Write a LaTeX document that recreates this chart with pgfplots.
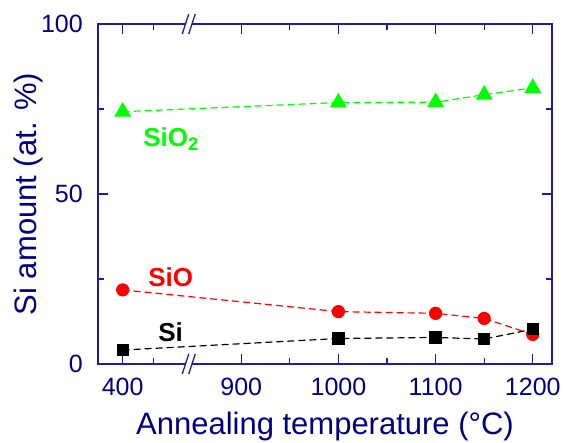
\documentclass[border=0pt]{standalone}
\usepackage{pgfplots}
\pgfplotsset{compat=1.18}
\usepackage{fontspec}
\setmainfont{Liberation Sans}
\definecolor{navytext}{RGB}{0,0,128}
\definecolor{axblue}{RGB}{30,30,150}
\definecolor{sgreen}{RGB}{0,255,0}
\definecolor{sred}{RGB}{255,0,0}
\begin{document}
\begin{tikzpicture}
\path[use as bounding box] (0,0) rectangle (563pt,443pt);
\begin{axis}[
  at={(98pt,79pt)}, anchor=south west,
  scale only axis, width=454pt, height=340pt,
  xmin=752.6, xmax=1219.8, ymin=0, ymax=100,
  xtick={778,900,1000,1100,1200},
  xticklabels={400,900,1000,1100,1200},
  minor xtick={810,950,1050,1150},
  ytick={0,50,100},
  minor ytick={25,75},
  tick align=inside,
  major tick length=10pt, minor tick length=6pt,
  axis line style={axblue, line width=1.3pt},
  every tick/.style={axblue, line width=1.3pt},
  /pgf/number format/assume math mode=true,
  tick label style={font=\fontsize{25}{28}\selectfont, text=navytext, inner sep=0pt},
  xticklabel style={anchor=north, yshift=-14pt},
  yticklabel style={anchor=east, xshift=-15pt},
  xlabel={Annealing temperature (°C)},
  ylabel={Si amount (at. \%)},
  label style={font=\fontsize{31}{34}\selectfont, text=navytext},
  xlabel style={at={(axis description cs:0.5,0)}, anchor=center, yshift=-62pt},
  ylabel style={at={(axis description cs:0,0.5)}, anchor=center, yshift=70pt},
  clip=false,
]
\addplot[sgreen, line width=1.2pt, dash pattern=on 7pt off 4pt, mark=triangle*, mark size=8.5pt, mark options={solid}]
  coordinates {(778,74.2) (1000,76.9) (1100,77.0) (1150,79.2) (1200,81.2)};
\addplot[sred, line width=1.2pt, dash pattern=on 7pt off 4pt, mark=*, mark size=6pt, mark options={solid}]
  coordinates {(778,21.8) (1000,15.4) (1100,14.9) (1150,13.4) (1200,8.7)};
\addplot[black, line width=1.2pt, dash pattern=on 7pt off 4pt, mark=square*, mark size=5.5pt, mark options={solid}]
  coordinates {(778,4.1) (1000,7.5) (1100,7.8) (1150,7.35) (1200,10.2)};
\node[anchor=base west, inner sep=0pt, text=sgreen, font=\fontsize{26}{28}\selectfont\bfseries] at (axis cs:799.1,63.9) {SiO\textsubscript{2}};
\node[anchor=base west, inner sep=0pt, text=sred, font=\fontsize{26}{28}\selectfont\bfseries] at (axis cs:804.2,22.7) {SiO};
\node[anchor=base west, inner sep=0pt, text=black, font=\fontsize{26}{28}\selectfont\bfseries] at (axis cs:814.5,6.56) {Si};
\coordinate (btop) at (axis cs:846,100);
\coordinate (bbot) at (axis cs:846,0);
\end{axis}
\foreach \c in {btop,bbot}{
  \fill[white] ([xshift=-3pt,yshift=-1.5pt]\c) rectangle ([xshift=3pt,yshift=1.5pt]\c);
  \draw[axblue, line width=1.3pt] ([xshift=-6.5pt,yshift=-10pt]\c) -- ([xshift=0pt,yshift=10pt]\c);
  \draw[axblue, line width=1.3pt] ([xshift=0pt,yshift=-10pt]\c) -- ([xshift=6.5pt,yshift=10pt]\c);
}
\end{tikzpicture}
\end{document}
